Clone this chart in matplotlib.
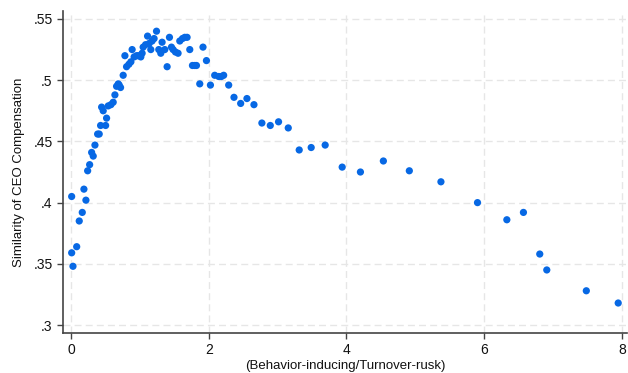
import numpy as np
import matplotlib
matplotlib.use("Agg")
import matplotlib.pyplot as plt
from matplotlib.ticker import FuncFormatter

# points
ratio = [0.430, 0.503, 0.517, 0.445, 0.468, 0.541, 0.580, 0.613, 0.638, 0.662,
         0.686, 0.720, 0.700, 0.758, 0.783, 0.807, 0.841, 0.870, 0.888, 0.917,
         0.952, 0.975, 1.014, 1.033, 1.048, 1.083, 1.112, 1.135, 1.159, 1.178,
         1.207, 1.242, 1.275, 1.304, 1.323, 1.362, 1.396, 1.430, 1.459, 1.483,
         1.517, 1.555, 1.580, 1.619, 1.652, 1.686, 1.725, 1.764, 1.797, 1.822,
         1.870, 1.917, 1.967, 2.025, 2.087, 2.145, 2.184, 2.217, 2.290, 2.367,
         0.348, 0.387, 0.410, 0.300, 0.323, 0.271, 0.242, 0.188, 0.010, 0.217,
         0.164, 0.120, 0.083, 0.010, 0.029,
         2.464, 2.555, 2.657, 2.772, 2.894, 3.014, 3.155, 3.314, 3.488, 3.691,
         3.938, 4.203, 4.536, 4.913, 5.372, 5.903, 6.329, 6.570, 6.807, 6.909,
         7.483, 7.946]
similarity = [0.463, 0.463, 0.469, 0.478, 0.475, 0.479, 0.480, 0.482, 0.488, 0.495,
              0.497, 0.494, 0.496, 0.504, 0.520, 0.511, 0.513, 0.515, 0.525, 0.519,
              0.520, 0.520, 0.519, 0.522, 0.527, 0.529, 0.536, 0.530, 0.525, 0.532,
              0.534, 0.540, 0.525, 0.522, 0.531, 0.525, 0.511, 0.535, 0.527, 0.525,
              0.523, 0.522, 0.532, 0.534, 0.535, 0.535, 0.525, 0.512, 0.512, 0.512,
              0.497, 0.527, 0.516, 0.496, 0.504, 0.503, 0.503, 0.504, 0.496, 0.486,
              0.447, 0.456, 0.456, 0.441, 0.438, 0.431, 0.426, 0.411, 0.405, 0.402,
              0.392, 0.385, 0.364, 0.359, 0.348,
              0.481, 0.485, 0.480, 0.465, 0.463, 0.466, 0.461, 0.443, 0.445, 0.447,
              0.429, 0.425, 0.434, 0.426, 0.417, 0.400, 0.386, 0.392, 0.358, 0.345,
              0.328, 0.318]

xticks = [0, 2, 4, 6, 8]
yticks = [0.30, 0.35, 0.40, 0.45, 0.50, 0.55]

plt.rcParams['font.family'] = ['Liberation Sans', 'DejaVu Sans']

fig = plt.figure(figsize=(6.28, 3.73), dpi=100)
ax = fig.add_axes([0.1003, 0.1072, 0.8977, 0.8633])

ax.scatter(ratio, similarity, s=27, color='#0768e4', edgecolors='none', zorder=3)

ax.set_xlim(-0.116, 8.07)
ax.set_ylim(0.2935, 0.5565)
ax.set_xticks(xticks)
ax.set_yticks(yticks)
ax.yaxis.set_major_formatter(FuncFormatter(lambda v, p: ('%.2f' % v).rstrip('0').lstrip('0')))

ax.grid(True, color='#e6e6e6', linestyle=(0, (5, 3)), linewidth=1.0, zorder=0)
for s in ['top', 'right']:
    ax.spines[s].set_visible(False)
for s in ['left', 'bottom']:
    ax.spines[s].set_color('#444444')
    ax.spines[s].set_linewidth(1.2)
ax.tick_params(direction='out', length=4, width=1.0, color='#444444', labelsize=10,
               labelcolor='#111111')

ax.set_xlabel('(Behavior-inducing/Turnover-rusk)', fontsize=9.5, color='#111111', labelpad=2)
ax.set_ylabel('Similarity of CEO Compensation', fontsize=9.5, color='#111111', labelpad=6)

fig.savefig('out.png', dpi=100)
